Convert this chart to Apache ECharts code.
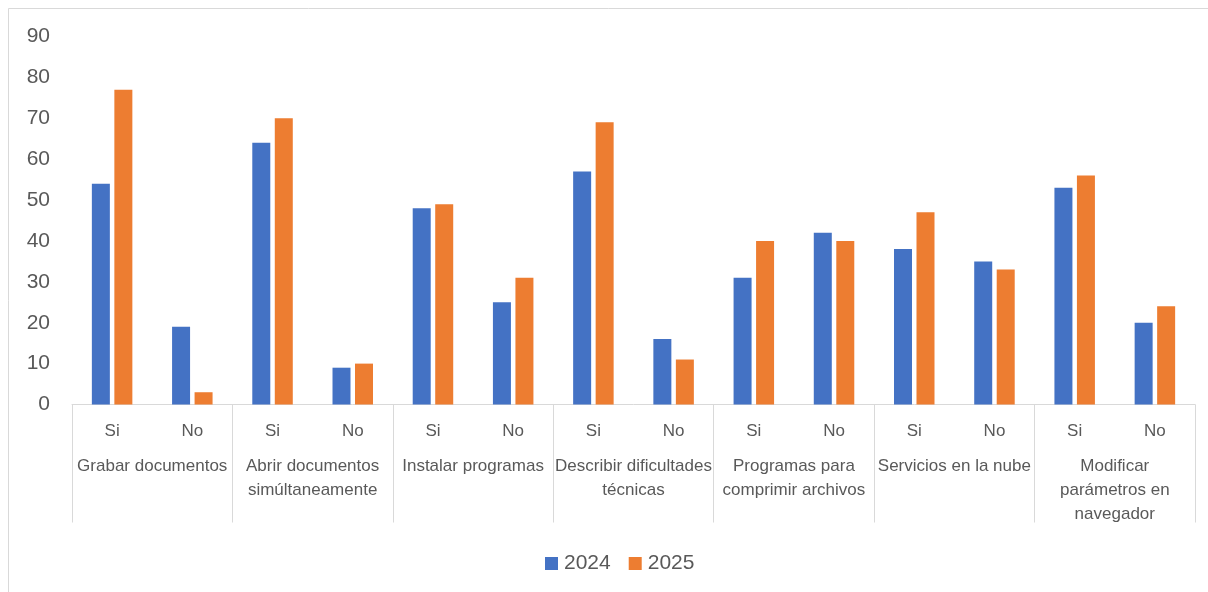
<!DOCTYPE html>
<html>
<head>
<meta charset="utf-8">
<script src="https://cdn.jsdelivr.net/npm/echarts@6/dist/echarts.min.js"></script>
<style>html,body{margin:0;padding:0;background:#fff}#c{width:1208px;height:592px}</style>
</head>
<body>
<div id="c"></div>
<script>
const groups = ['Grabar documentos', 'Abrir documentos\nsimúltaneamente', 'Instalar programas', 'Describir dificultades\ntécnicas', 'Programas para\ncomprimir archivos', 'Servicios en la nube', 'Modificar\nparámetros en\nnavegador'];
const answers = ['Si','No','Si','No','Si','No','Si','No','Si','No','Si','No','Si','No'];
const seriesNames = ['2024', '2025'];
const values2024 = [54, 19, 64, 9, 48, 25, 57, 16, 31, 42, 38, 35, 53, 20];
const values2025 = [77, 3, 70, 10, 49, 31, 69, 11, 40, 40, 47, 33, 56, 24];
const yTicks = { min: 0, max: 90, interval: 10 };

const FONT = '"Liberation Sans", Arial, sans-serif';
const TXT = '#595959';
const chart = echarts.init(document.getElementById('c'), null, { renderer: 'canvas' });
chart.setOption({
  animation: false,
  backgroundColor: '#fff',
  textStyle: { fontFamily: FONT },
  graphic: [{
    type: 'rect', silent: true, z: -1,
    shape: { x: 8.5, y: 8.5, width: 1220, height: 620 },
    style: { fill: 'none', stroke: '#d9d9d9', lineWidth: 1 }
  }],
  grid: { left: 72, right: 13, top: 36.5, bottom: 187.5, containLabel: false },
  legend: {
    data: seriesNames, left: 540, top: 548,
    icon: 'rect', itemWidth: 13, itemHeight: 13, itemGap: 18,
    textStyle: { fontSize: 21, color: TXT, fontFamily: FONT, padding: [0, 0, 0, 1] }
  },
  xAxis: [{
    type: 'category', data: answers, position: 'bottom',
    axisLine: { show: true, lineStyle: { color: '#d9d9d9', width: 1 } },
    axisTick: { show: false },
    axisLabel: { interval: 0, margin: 18, fontSize: 17, color: TXT, fontFamily: FONT }
  }, {
    type: 'category', data: groups, position: 'bottom',
    axisLine: { show: false },
    axisTick: { show: true, length: 118, lineStyle: { color: '#d9d9d9', width: 1 } },
    axisLabel: { interval: 0, margin: 50, fontSize: 17, lineHeight: 24, color: TXT, fontFamily: FONT, align: 'center' }
  }],
  yAxis: {
    type: 'value', min: yTicks.min, max: yTicks.max, interval: yTicks.interval,
    axisLine: { show: false }, axisTick: { show: false }, splitLine: { show: false },
    axisLabel: { fontSize: 21, color: TXT, margin: 22, fontFamily: FONT }
  },
  series: [{
    name: seriesNames[0], type: 'bar', data: values2024, xAxisIndex: 0,
    barWidth: 18, barGap: '25%',
    itemStyle: { color: '#4472C4' }
  }, {
    name: seriesNames[1], type: 'bar', data: values2025, xAxisIndex: 0,
    barWidth: 18, barGap: '25%',
    itemStyle: { color: '#ED7D31' }
  }]
});
</script>
</body>
</html>
